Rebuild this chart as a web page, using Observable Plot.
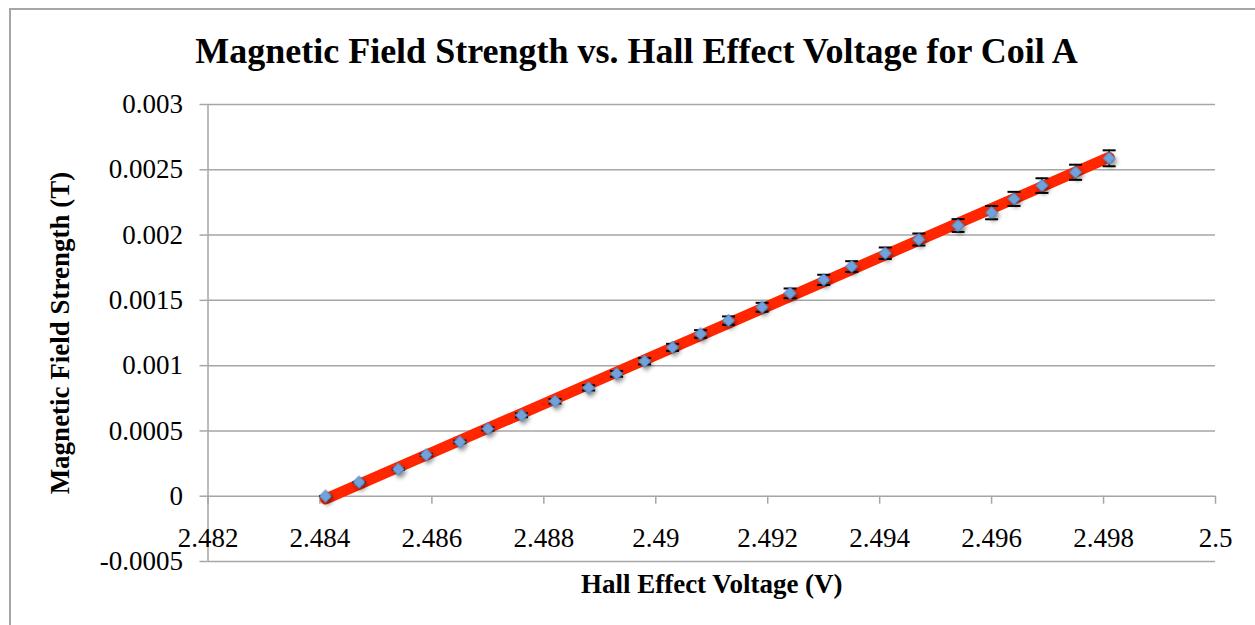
<!DOCTYPE html>
<html>
<head>
<meta charset="utf-8">
<script src="https://cdn.jsdelivr.net/npm/d3@7"></script>
<script src="https://cdn.jsdelivr.net/npm/@observablehq/plot@0.6"></script>
<style>
  html, body { margin: 0; padding: 0; background: #fff; }
  body { width: 1255px; height: 625px; position: relative; overflow: hidden; font-family: "Liberation Serif", serif; }
  #frame { position: absolute; left: 9px; top: 8px; width: 1400px; height: 800px; border-left: 2px solid #a6a6a6; border-top: 2px solid #a6a6a6; }
  #title { position: relative; height: 80px; box-sizing: border-box; padding-top: 33px; padding-left: 18px; text-align: center; font-size: 36px; line-height: 1; font-weight: bold; color: #000; }
  #chart { position: relative; }
  #chart svg, #chart svg text, #chart svg g { font-family: "Liberation Serif", serif !important; }
</style>
</head>
<body>
<div id="frame"></div>
<div id="title">Magnetic Field Strength vs. Hall Effect Voltage for Coil A</div>
<div id="chart"></div>
<script>
// Hall effect voltage (V)
const voltage = [2.4841, 2.4847, 2.4854, 2.4859, 2.4865, 2.4870, 2.4876, 2.4882, 2.4888, 2.4893,
                 2.4898, 2.4903, 2.4908, 2.4913, 2.4919, 2.4924, 2.4930, 2.4935, 2.4941, 2.4947,
                 2.4954, 2.4960, 2.4964, 2.4969, 2.4975, 2.4981];
// Magnetic field strength (T)
const field = [0, 0.000107, 0.000207, 0.000317, 0.000416, 0.000516, 0.000620, 0.000727, 0.000830, 0.000937,
               0.001034, 0.001140, 0.001243, 0.001345, 0.001447, 0.001554, 0.001657, 0.001759, 0.001861, 0.001966,
               0.002073, 0.002172, 0.002277, 0.002379, 0.002481, 0.002588];
// Error (± T)
const fieldErr = [0, 0.0000025, 0.000005, 0.0000075, 0.00001, 0.000012, 0.000015, 0.000017, 0.00002, 0.000022,
                  0.000024, 0.000027, 0.000029, 0.000032, 0.000034, 0.000037, 0.000039, 0.000041, 0.000044, 0.000046,
                  0.000049, 0.000051, 0.000054, 0.000056, 0.000058, 0.000061];
const xTicks = [2.482, 2.484, 2.486, 2.488, 2.49, 2.492, 2.494, 2.496, 2.498, 2.5];
const yTicks = [-0.0005, 0, 0.0005, 0.001, 0.0015, 0.002, 0.0025, 0.003];
const xLabel = "Hall Effect Voltage (V)";
const yLabel = "Magnetic Field Strength (T)";

const data = voltage.map((v, i) => ({v, b: field[i], e: fieldErr[i]}));

const W = 1255, H = 545, mt = 24, mb = 64, ml = 207.5, mr = 40;
const xDomain = [2.482, 2.5], yDomain = [-0.0005, 0.003];
const innerH = H - mt - mb;
const zeroDy = -innerH * (0 - yDomain[0]) / (yDomain[1] - yDomain[0]);
const gridColor = "#a6a6a6";
const serif = "'Liberation Serif', serif";

const capSymbol = {draw(ctx) { ctx.moveTo(-6.5, 0); ctx.lineTo(6.5, 0); }};

const plot = Plot.plot({
  width: W, height: H,
  marginTop: mt, marginBottom: mb, marginLeft: ml, marginRight: mr,
  style: {fontFamily: serif, fontSize: "27px", background: "transparent", color: "#000", overflow: "visible"},
  x: {domain: xDomain, label: null},
  y: {domain: yDomain, label: null},
  marks: [
    Plot.gridY(yTicks, {stroke: gridColor, strokeOpacity: 1, strokeWidth: 1.5}),
    Plot.ruleX([xDomain[0]], {stroke: gridColor, strokeWidth: 1.5}),
    Plot.axisY({ticks: yTicks, tickSize: 8, tickFormat: () => "", color: gridColor, strokeWidth: 1.5}),
    Plot.axisY({ticks: yTicks, tickSize: 0, tickPadding: 25, tickFormat: d => String(d), fill: "#000", fontFamily: serif, fontSize: 27}),
    Plot.axisX({ticks: xTicks, tickSize: 8, tickFormat: () => "", color: gridColor, strokeWidth: 1.5, dy: zeroDy}),
    Plot.axisX({ticks: xTicks, tickSize: 0, tickPadding: 32, tickFormat: d => String(d), fill: "#000", dy: zeroDy, fontFamily: serif, fontSize: 27}),
    Plot.linearRegressionY(data, {x: "v", y: "b", stroke: "#ff2600", strokeWidth: 11, ci: 0, strokeLinecap: "round"}),
    Plot.ruleX(data, {x: "v", y1: d => d.b - d.e, y2: d => d.b + d.e, stroke: "#000", strokeWidth: 1.5}),
    Plot.dot(data, {x: "v", y: d => d.b + d.e, symbol: capSymbol, r: 5, stroke: "#000", fill: "none", strokeWidth: 2}),
    Plot.dot(data, {x: "v", y: d => d.b - d.e, symbol: capSymbol, r: 5, stroke: "#000", fill: "none", strokeWidth: 2}),
    Plot.dot(data, {x: "v", y: "b", symbol: "diamond2", r: 5.6, fill: "#72a2dc", stroke: "#4f81bd", strokeWidth: 1}),
    Plot.text([xLabel], {frameAnchor: "bottom", dy: 31, fontWeight: "bold", fontSize: 27, fontFamily: serif}),
    Plot.text([yLabel], {frameAnchor: "left", dx: 60 - ml, rotate: -90, textAnchor: "middle", fontWeight: "bold", fontSize: 27, fontFamily: serif})
  ]
});
document.getElementById("chart").appendChild(plot);
const dotGroups = plot.querySelectorAll('g[aria-label="dot"]');
if (dotGroups.length) dotGroups[dotGroups.length - 1].style.filter = "drop-shadow(2px 3px 2px rgba(0,0,0,0.45))";
</script>
</body>
</html>
